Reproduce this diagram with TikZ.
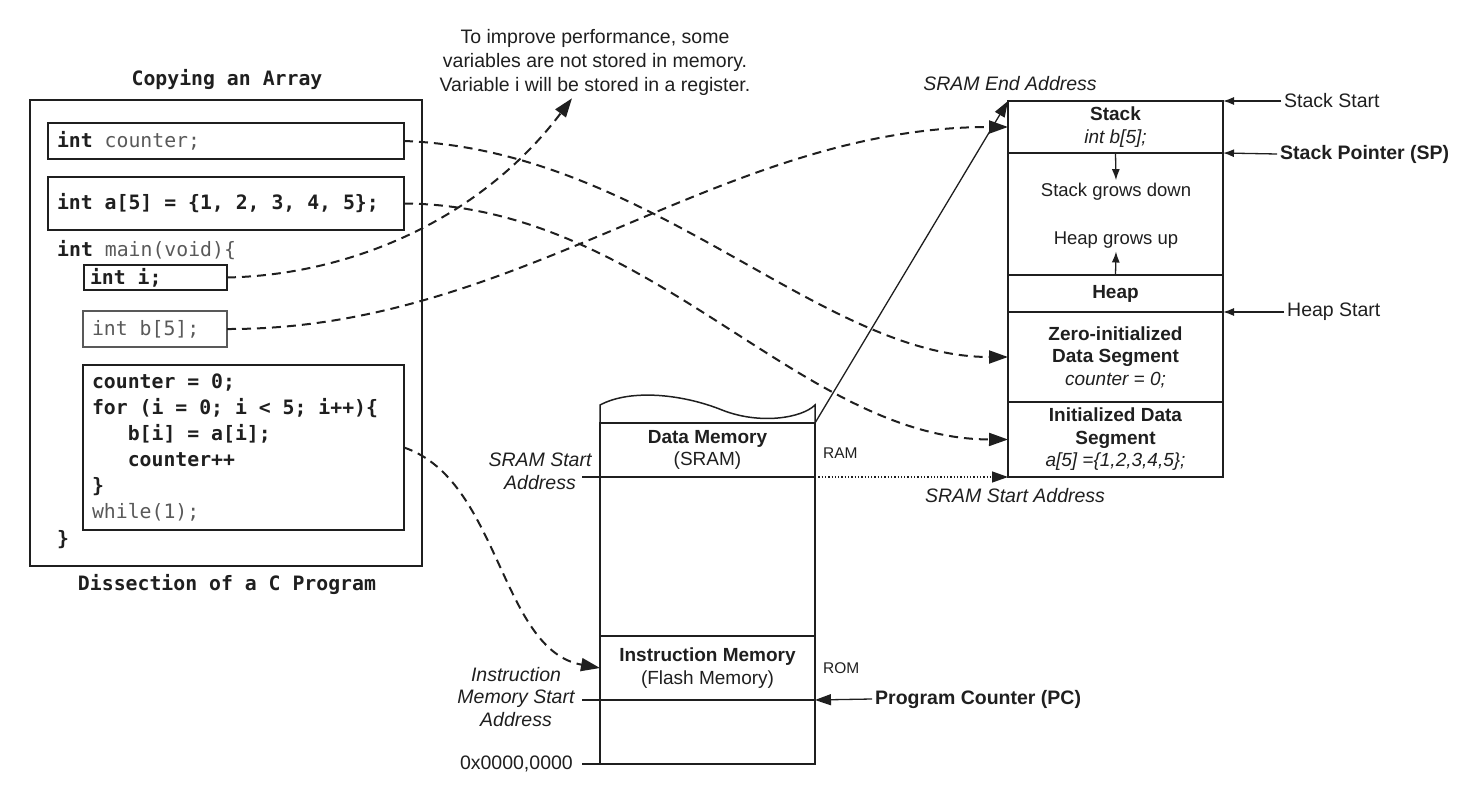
\documentclass[tikz,border=0pt]{standalone}
\usepackage{fontspec}
\setmainfont{Liberation Sans}
\newfontfamily\codefont{DejaVu Sans Mono}
\usepackage{xcolor}
\usetikzlibrary{positioning, arrows.meta}

\definecolor{ink}{gray}{0.12}
\definecolor{soft}{gray}{0.35}

\tikzset{
  seg/.style={draw, line width=1.5pt, outer sep=0pt, minimum width=215pt, inner sep=0pt, align=center, font=\fontsize{19}{22.5}\selectfont},
  cbox/.style={draw, line width=1.8pt, outer sep=0pt, anchor=north west, inner xsep=9pt, inner ysep=0pt, align=left, font=\codefont\fontsize{19.8}{26}\selectfont, execute at begin node={\spaceskip=0pt\xspaceskip=0pt}},
  ctext/.style={inner sep=0pt, font=\codefont\fontsize{19.8}{26}\selectfont},
  lbl/.style={inner sep=3pt, align=center, font=\fontsize{19.5}{23}\selectfont},
  small/.style={inner sep=0pt, font=\fontsize{15.5}{18}\selectfont},
  ptr/.style={-{Latex[length=11pt,width=8pt]}, line width=1.3pt},
  link/.style={-{Triangle[length=19pt,width=13pt]}, line width=2pt, dash pattern=on 9pt off 6pt},
}

\begin{document}
\begin{tikzpicture}[x=1pt, y=-1pt, color=ink]
  \useasboundingbox (0,0) rectangle (1465,787);

  % program
  \node[ctext, font=\codefont\bfseries\fontsize{19.8}{24}\selectfont] (title) at (227,80) {Copying an Array};
  \node[draw, line width=1.5pt, outer sep=0pt, anchor=north west, minimum width=392pt, minimum height=466pt] (prog) at (30,100) {};
  \node[cbox, text width=338pt, minimum height=36pt] (cnt) at (48,123) {\textbf{int} \textcolor{soft}{counter;}};
  \node[cbox, text width=338pt, minimum height=53pt] (arr) at (48,177) {\textbf{int a[5] = \{1, 2, 3, 4, 5\};}};
  \node[ctext, anchor=west] (mainf) at (57,250) {\textbf{int} \textcolor{soft}{main(void)\{}};
  \node[cbox, inner xsep=6pt, text width=131pt, minimum height=25pt] (ivar) at (84,265) {\textbf{int i;}};
  \node[cbox, draw=soft, line width=1.3pt, text width=126pt, minimum height=36pt] (bvar) at (83,311) {\textcolor{soft}{int b[5];}};
  \node[cbox, text width=303pt, minimum height=165pt] (body) at (83,365) {\textbf{counter = 0;}\\
    \textbf{for (i = 0; i < 5; i++)\{}\\
    \textbf{\phantom{xxx}b[i] = a[i];}\\
    \textbf{\phantom{xxx}counter++}\\
    \textbf{\}}\\
    \textcolor{soft}{while(1);}};
  \node[ctext, anchor=west] (endf) at (57,540) {\textbf{\}}};
  \node[ctext, font=\codefont\bfseries\fontsize{19.8}{24}\selectfont] (caption) at (227,584) {Dissection of a C Program};

  \node[lbl, font=\fontsize{19.5}{24}\selectfont] (note) at (595,62) {To improve performance, some\\variables are not stored in memory.\\Variable i will be stored in a register.};

  % memory map
  \node[seg, anchor=north west, minimum height=54pt] (dmem) at (600,423) {\textbf{Data Memory}\\(SRAM)};
  \node[seg, below=0pt of dmem, minimum height=159pt] (mid) {};
  \node[seg, below=0pt of mid, minimum height=64pt] (imem) {\textbf{Instruction Memory}\\(Flash Memory)};
  \node[seg, below=0pt of imem, minimum height=64pt] (bot) {};
  \draw[line width=1.5pt] (dmem.north west) -- (600,405) .. controls (632,388) and (685,395) .. (722,410) .. controls (760,425) and (802,418) .. (815,405) -- (dmem.north east);

  \coordinate (sl) at (582,477);
  \coordinate (il) at (582,700);
  \coordinate (zl) at (582,764);
  \draw[line width=1.5pt] (sl) -- (dmem.south west);
  \draw[line width=1.5pt] (il) -- (imem.south west);
  \draw[line width=1.5pt] (zl) -- (bot.south west);

  \node[lbl, font=\itshape\fontsize{19.5}{23}\selectfont] (sslbl) at (540,471) {SRAM Start\\Address};
  \node[lbl, font=\itshape\fontsize{19.5}{22.5}\selectfont] (islbl) at (516,697) {Instruction\\Memory Start\\Address};
  \node[lbl, anchor=east] (zero) at (576,764) {0x0000,0000};
  \node[small, anchor=west] (ram) at (823,453) {RAM};
  \node[small, anchor=west] (rom) at (823,668) {ROM};
  \node[lbl, anchor=west, font=\bfseries\fontsize{19.5}{23}\selectfont] (pc) at (872,699) {Program Counter (PC)};
  \draw[ptr, -{Triangle[length=16pt,width=11pt]}] (pc.west) -- (imem.south east);

  % sram detail
  \node[seg, anchor=north west, minimum height=52pt] (stk) at (1008,101) {\textbf{Stack}\\\textit{int b[5];}};
  \node[seg, below=0pt of stk, minimum height=122pt] (grow) {};
  \node[seg, below=0pt of grow, minimum height=37pt] (heap) {\textbf{Heap}};
  \node[seg, below=0pt of heap, minimum height=90pt] (zinit) {\textbf{Zero-initialized}\\\textbf{Data Segment}\\\textit{counter = 0;}};
  \node[seg, below=0pt of zinit, minimum height=75pt] (init) {\textbf{Initialized Data}\\\textbf{Segment}\\\textit{a[5] =\{1,2,3,4,5\};}};
  \node[lbl, font=\fontsize{18.5}{22}\selectfont] (sgd) at (1116,192) {Stack grows down};
  \node[lbl, font=\fontsize{18.5}{22}\selectfont] (hgu) at (1116,240) {Heap grows up};
  \draw[ptr] (grow.north) -- (sgd.north);
  \draw[ptr] (grow.south) -- (hgu.south);

  \node[lbl, font=\itshape\fontsize{19.5}{23}\selectfont] (endlbl) at (1010,84) {SRAM End Address};
  \node[lbl, font=\itshape\fontsize{19.5}{23}\selectfont] (startlbl) at (1015,496) {SRAM Start Address};
  \node[lbl, anchor=west] (ss) at (1281,101) {Stack Start};
  \node[lbl, anchor=west, font=\bfseries\fontsize{19.5}{23}\selectfont] (sp) at (1277,154) {Stack Pointer (SP)};
  \node[lbl, anchor=west] (hs) at (1284,312) {Heap Start};
  \draw[ptr] (ss.west) -- (stk.north east);
  \draw[ptr] (sp.west) -- (stk.south east);
  \draw[ptr] (hs.west) -- (heap.south east);

  \draw[ptr, -{Triangle[length=16pt,width=11pt]}] (dmem.north east) -- (stk.north west);
  \draw[ptr, -{Triangle[length=16pt,width=11pt]}, dotted] (dmem.south east) -- (init.south west);

  % variables to memory
  \draw[link] (cnt.east) .. controls (650,150) and (820,357) .. (zinit.west);
  \draw[link] (arr.east) .. controls (650,205) and (800,439) .. (init.west);
  \draw[link] (ivar.east) .. controls (350,275) and (480,220) .. ([xshift=-23pt]note.south);
  \draw[link] (bvar.east) .. controls (520,330) and (720,127) .. (stk.west);
  \draw[link] (body.east) .. controls (500,480) and (500,650) .. (imem.west);
\end{tikzpicture}
\end{document}
